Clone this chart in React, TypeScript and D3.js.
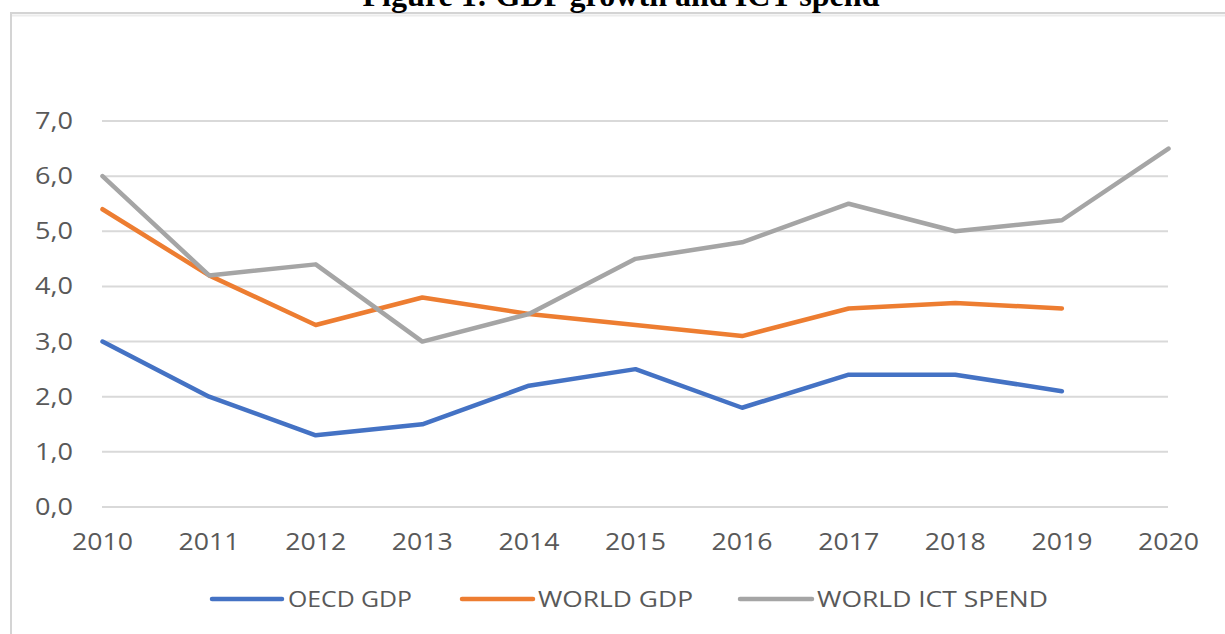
import React from "react";
import * as d3 from "d3";

const years = [2010, 2011, 2012, 2013, 2014, 2015, 2016, 2017, 2018, 2019, 2020];
const oecdGdp = [3.0, 2.0, 1.3, 1.5, 2.2, 2.5, 1.8, 2.4, 2.4, 2.1];
const worldGdp = [5.4, 4.2, 3.3, 3.8, 3.5, 3.3, 3.1, 3.6, 3.7, 3.6];
const worldIct = [6.0, 4.2, 4.4, 3.0, 3.5, 4.5, 4.8, 5.5, 5.0, 5.2, 6.5];
const yTicks = [0, 1, 2, 3, 4, 5, 6, 7];
const seriesNames = ["OECD GDP", "WORLD GDP", "WORLD ICT SPEND"];
const seriesColors = ["#4472C4", "#ED7D31", "#A5A5A5"];

const W = 1225;
const H = 634;

export default function App() {
  const x = d3.scaleLinear().domain([2010, 2020]).range([102.5, 1168.5]);
  const y = d3.scaleLinear().domain([0, 7]).range([507, 121]);
  const line = d3
    .line<number>()
    .x((_, i) => x(years[i]))
    .y((d) => y(d));
  const series = [oecdGdp, worldGdp, worldIct];
  const fmt = (v: number) => v.toFixed(1).replace(".", ",");

  const legendItems = [
    { x1: 212, x2: 282, tx: 288, tw: 124 },
    { x1: 462, x2: 533, tx: 538, tw: 155 },
    { x1: 740, x2: 812, tx: 817, tw: 231 },
  ];

  return (
    <svg
      width={W}
      height={H}
      style={{ position: "absolute", left: 0, top: 0, display: "block", background: "#fff" }}
    >
      <rect x={0} y={0} width={W} height={H} fill="#fff" />
      {/* frame */}
      <rect x={11} y={13} width={1240} height={660} fill="none" stroke="#d4d4d4" strokeWidth={2} />
      <line x1={12} x2={1240} y1={15.5} y2={15.5} stroke="#ececec" strokeWidth={2} />
      {/* title */}
      <text
        x={621}
        y={6}
        textAnchor="middle"
        fontFamily="'Liberation Serif', 'Times New Roman', serif"
        fontWeight="bold"
        fontSize={32}
        fill="#000"
        textLength={517}
        lengthAdjust="spacingAndGlyphs"
      >
        Figure 1: GDP growth and ICT spend
      </text>
      {/* gridlines */}
      {yTicks.map((t) => (
        <line key={t} x1={102} x2={1168} y1={y(t)} y2={y(t)} stroke="#d9d9d9" strokeWidth={2} />
      ))}
      {/* y labels */}
      {yTicks.map((t) => (
        <text
          key={t}
          x={73}
          y={y(t) + 8}
          textAnchor="end"
          fontFamily="'Open Sans', sans-serif"
          fontSize={23}
          fill="#595959"
          textLength={38}
          lengthAdjust="spacingAndGlyphs"
        >
          {fmt(t)}
        </text>
      ))}
      {/* x labels */}
      {years.map((yr) => (
        <text
          key={yr}
          x={x(yr)}
          y={550}
          textAnchor="middle"
          fontFamily="'Open Sans', sans-serif"
          fontSize={23}
          fill="#595959"
          textLength={61}
          lengthAdjust="spacingAndGlyphs"
        >
          {yr}
        </text>
      ))}
      {/* lines */}
      {series.map((s, i) => (
        <path
          key={i}
          d={line(s) || ""}
          fill="none"
          stroke={seriesColors[i]}
          strokeWidth={4.5}
          strokeLinejoin="round"
          strokeLinecap="round"
        />
      ))}
      {/* legend */}
      {legendItems.map((it, i) => (
        <g key={i}>
          <line
            x1={it.x1}
            x2={it.x2}
            y1={599}
            y2={599}
            stroke={seriesColors[i]}
            strokeWidth={4.5}
            strokeLinecap="round"
          />
          <text
            x={it.tx}
            y={606.5}
            fontFamily="'Open Sans', sans-serif"
            fontSize={21}
            fill="#595959"
            textLength={it.tw}
            lengthAdjust="spacingAndGlyphs"
          >
            {seriesNames[i]}
          </text>
        </g>
      ))}
    </svg>
  );
}
